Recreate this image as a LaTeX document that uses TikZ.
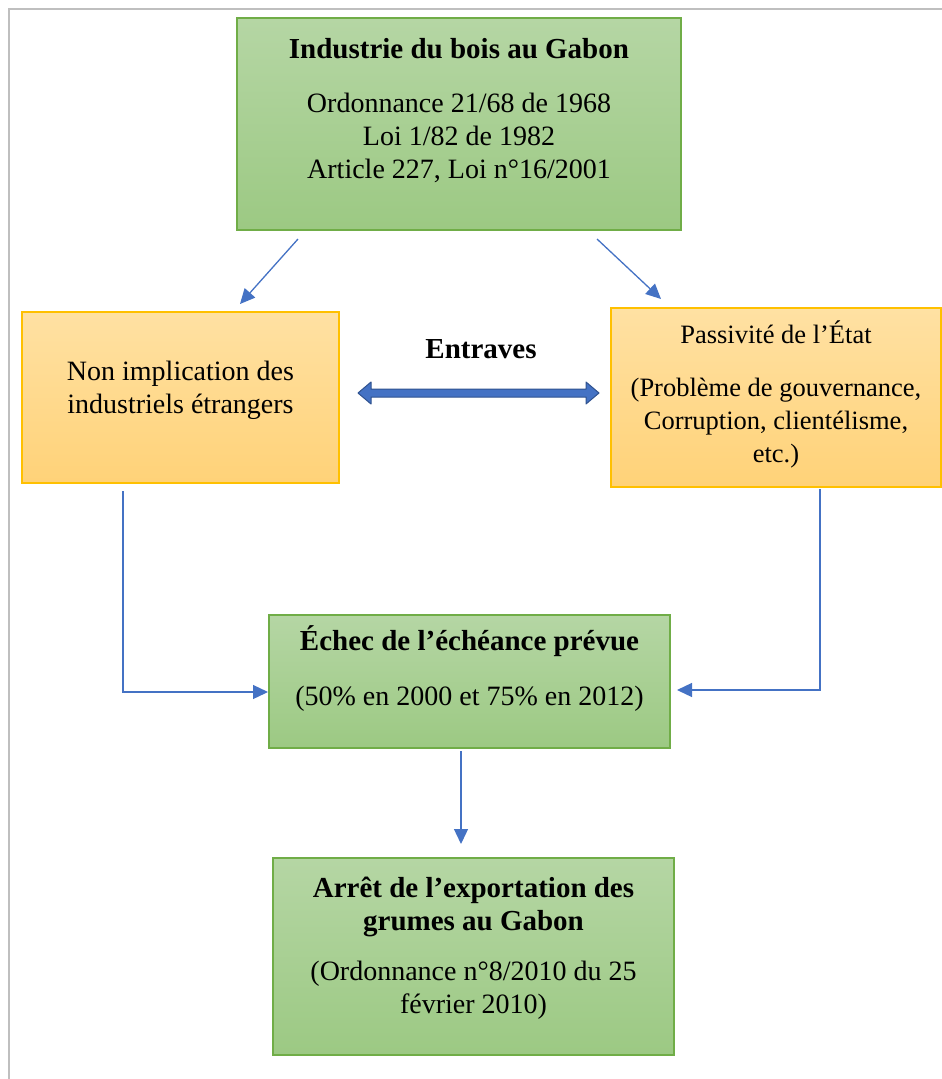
\documentclass[tikz,border=0pt]{standalone}
\usepackage{fontspec}
\setmainfont{Liberation Serif}
\usepackage{xcolor}
\usetikzlibrary{arrows.meta,calc}

\definecolor{cadrevert}{HTML}{70AD47}
\definecolor{vertclair}{HTML}{B5D6A4}
\definecolor{vertfonce}{HTML}{9CC983}
\definecolor{cadreorange}{HTML}{FFC000}
\definecolor{orangeclair}{HTML}{FFE1A3}
\definecolor{orangefonce}{HTML}{FFD278}
\definecolor{flechebleu}{HTML}{4472C4}
\definecolor{flechefonce}{HTML}{2F528F}
\definecolor{pagegris}{HTML}{BFBFBF}

% largeur, hauteur, espace en haut, texte
\newcommand{\boite}[4]{\parbox[c][#2][t]{#1}{\centering\vspace*{#3}#4}}
\newcommand{\titre}{\fontsize{29}{34}\selectfont\bfseries}

\tikzset{
	boxvert/.style={draw=cadrevert, line width=2pt, top color=vertclair, bottom color=vertfonce, inner sep=0pt},
	boxorange/.style={draw=cadreorange, line width=2pt, top color=orangeclair, bottom color=orangefonce, inner sep=0pt},
	fleche/.style={draw=flechebleu, line width=1.3pt, -{Triangle[length=15pt,width=14pt]}}
}

\begin{document}
\begin{tikzpicture}[x=1pt, y=-1pt, font=\fontsize{28}{33}\selectfont]
	\useasboundingbox (0,0) rectangle (942,1079);
	\draw[pagegris, line width=2pt] (9,1079) -- (9,9) -- (942,9);

	\node[boxvert] (indus) at (459,124) {\boite{444pt}{212pt}{20pt}{{\titre Industrie du bois au Gabon}\\[21pt]
		Ordonnance 21/68 de 1968\\ Loi 1/82 de 1982\\ Article 227, Loi n°16/2001}};
	\node[boxorange] (nonimpl) at (180.5,397.5) {\boite{317pt}{171pt}{49pt}{Non implication des\\ industriels étrangers}};
	\node[boxorange, font=\fontsize{26.5}{33}\selectfont] (passiv) at (776,397.5) {\boite{330pt}{179pt}{13pt}{Passivité de l’État\\[20pt]
		(Problème de gouvernance,\\ Corruption, clientélisme,\\ etc.)}};
	\node[boxvert] (echec) at (469.5,681.5) {\boite{401pt}{133pt}{11pt}{{\titre Échec de l’échéance prévue}\\[22pt]
		(50\% en 2000 et 75\% en 2012)}};
	\node[boxvert] (arret) at (473.5,956.5) {\boite{401pt}{197pt}{19pt}{{\titre Arrêt de l’exportation des\\ grumes au Gabon}\\[17pt]
		(Ordonnance n°8/2010 du 25\\ février 2010)}};

	\node[font=\titre] (entraves) at (481,349) {Entraves};

	% double fleche
	\coordinate (ea) at ([xshift=18pt,yshift=4.5pt]nonimpl.east);
	\coordinate (eb) at ([xshift=-11pt,yshift=4.5pt]passiv.west);
	\filldraw[fill=flechebleu, draw=flechefonce, line width=1pt, line join=round]
		(ea) -- ++(13,-11) -- ++(0,7) -- ($(eb)+(-13,-4)$) -- ++(0,-7) -- (eb)
		-- ++(-13,11) -- ++(0,-7) -- ($(ea)+(13,4)$) -- ++(0,7) -- cycle;

	\draw[fleche] ([xshift=-161pt,yshift=-8pt]indus.south) -- ([xshift=59.5pt,yshift=7pt]nonimpl.north);
	\draw[fleche] ([xshift=138pt,yshift=-8pt]indus.south) -- ([xshift=-115pt,yshift=8pt]passiv.north);
	\draw[fleche] ([xshift=-57.5pt,yshift=-7pt]nonimpl.south) |- ([yshift=-10.5pt]echec.west);
	\draw[fleche] ([xshift=44pt,yshift=-1pt]passiv.south) |- ([xshift=6pt,yshift=-8.5pt]echec.east);
	\draw[fleche] ([xshift=-8.5pt,yshift=-2pt]echec.south) -- ([xshift=-12.5pt,yshift=13pt]arret.north);
\end{tikzpicture}
\end{document}
